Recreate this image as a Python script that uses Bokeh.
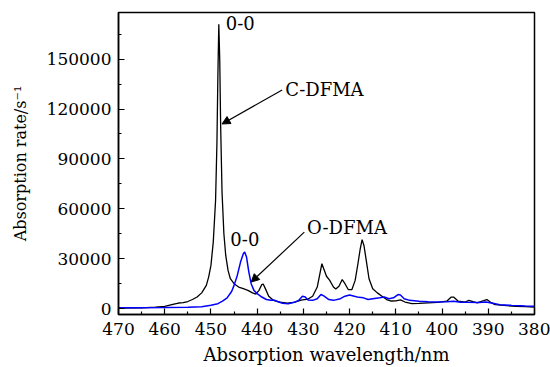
from bokeh.plotting import figure
from bokeh.models import Range1d, FixedTicker, Label, Arrow, NormalHead, BasicTickFormatter
from bokeh.embed import file_html
from bokeh.resources import INLINE

# C-DFMA (black)
c_nm = [470, 465, 462, 460, 458, 457, 456, 455, 454, 453, 452, 451, 450.5, 450, 449.5, 449, 448.7, 448.5, 448.3,
        448.1, 447.9, 447.6, 447.2, 446.8, 446.3, 445.8, 445, 444, 443, 442, 441, 440.3, 439.6, 439, 438.7, 438.3,
        437.5, 436.5, 435, 433.5, 432, 430.5, 429, 428, 427, 426.5, 426, 425.6, 425, 424.3, 423.5, 423, 422.3,
        421.6, 421, 420.3, 419.5, 418.8, 418.2, 417.7, 417.3, 416.9, 416.4, 415.8, 415, 414, 413, 412, 411, 410,
        409, 408, 406.5, 405, 403, 401, 399, 398, 397.5, 396.5, 395, 394.2, 393.3, 392.4, 391, 390.3, 389.5,
        388.5, 386, 384, 382, 380]
c_val = [300, 500, 900, 1400, 2800, 3400, 3600, 4300, 5500, 7000, 9500, 14000, 19000, 26000, 40000, 65000, 100000,
         140000, 171000, 150000, 110000, 70000, 45000, 32000, 23000, 18000, 15000, 13000, 12000, 11000, 9500, 8800,
         11000, 14500, 14800, 12500, 7500, 5000, 4000, 3300, 3800, 5200, 5800, 7500, 13000, 20000, 27000, 24000,
         19500, 17000, 13000, 11800, 13500, 17500, 15000, 11500, 11500, 17000, 27000, 36000, 41500, 38000, 29000,
         18000, 12000, 9500, 7500, 5500, 4600, 4700, 5300, 4000, 3000, 3200, 3500, 3800, 4500, 7000, 7000, 4500,
         4000, 5000, 4200, 3500, 4800, 5500, 3800, 2400, 1800, 1400, 1200, 1000]

# O-DFMA (blue)
o_nm = [470, 465, 460, 455, 452, 450, 448.5, 447.5, 446.5, 445.5, 445, 444.3, 443.6, 443, 442.7, 442.3, 441.8,
        441.3, 440.7, 440, 439, 438, 437, 436.4, 435.5, 434.5, 433.3, 432, 431, 430.2, 429.6, 429, 428, 427,
        426.2, 425.5, 424.5, 423.5, 422, 421, 420, 419, 418, 417, 416, 415, 413.5, 412.5, 411.5, 410.5, 410,
        409.5, 409, 408.2, 407, 405, 403, 401, 399, 397.5, 396, 394.5, 392, 390.5, 389, 387.5, 385, 382, 380]
o_val = [500, 600, 700, 900, 1200, 2000, 3000, 4500, 6500, 10500, 14000, 20000, 28000, 33000, 34000, 31000, 22000,
         15000, 11000, 9000, 7000, 5500, 5000, 5200, 4200, 3300, 3000, 3800, 5000, 7500, 7000, 5200, 5000, 6000,
         8500, 7500, 5500, 5000, 6000, 7500, 8200, 7500, 6800, 6500, 5500, 6000, 6500, 7000, 6000, 6500, 7500,
         8500, 8200, 6000, 5000, 4500, 4200, 4000, 4200, 4500, 3900, 3800, 3700, 4000, 3200, 2400, 2000, 1600, 1400]

x_ticks = [470, 460, 450, 440, 430, 420, 410, 400, 390, 380]
x_minor = [465, 455, 445, 435, 425, 415, 405, 395, 385]
y_ticks = [0, 30000, 60000, 90000, 120000, 150000]
y_minor = [15000, 45000, 75000, 105000, 135000, 165000]

x_title = "Absorption wavelength/nm"
y_title = "Absorption rate/s\u207b\u00b9"

# annotations: (text, nm, value)
labels = [("0-0", 446.8, 171500), ("C-DFMA", 433.9, 132000), ("0-0", 445.8, 41600), ("O-DFMA", 429.2, 49000)]
arrows = [(434.6, 131400, 447.6, 111000), (429.8, 46000, 441.3, 16000)]

FONT = "DejaVu Serif"

p = figure(width=550, height=367, output_backend="svg", toolbar_location=None,
           x_range=Range1d(470, 380), y_range=Range1d(-3500, 178000))
p.min_border_left = 118
p.min_border_top = 12
p.min_border_right = 16
p.min_border_bottom = 53
p.background_fill_color = "white"
p.border_fill_color = "white"
p.grid.visible = False
p.outline_line_color = "black"
p.outline_line_width = 1.5

p.line(c_nm, c_val, line_color="black", line_width=1.3)
p.line(o_nm, o_val, line_color="#0000ff", line_width=1.5)

for ax, t, m in ((p.xaxis[0], x_ticks, x_minor), (p.yaxis[0], y_ticks, y_minor)):
    ax.ticker = FixedTicker(ticks=t, minor_ticks=m)
    ax.formatter = BasicTickFormatter(use_scientific=False)
    ax.major_tick_in = 6
    ax.major_tick_out = 0
    ax.minor_tick_in = 3
    ax.minor_tick_out = 0
    ax.axis_line_width = 1.5
    ax.major_tick_line_width = 1.2
    ax.minor_tick_line_width = 1.2
    ax.major_label_text_font = FONT
    ax.major_label_text_font_size = "17px"
    ax.axis_label_text_font = FONT
    ax.axis_label_text_font_style = "normal"
    ax.major_label_text_color = "black"
    ax.axis_label_text_color = "black"

p.xaxis.axis_label = x_title
p.yaxis.axis_label = y_title
p.xaxis.axis_label_text_font_size = "18px"
p.yaxis.axis_label_text_font_size = "16px"
p.xaxis.major_label_standoff = 8
p.xaxis.axis_label_standoff = 6
p.yaxis.major_label_standoff = 7
p.yaxis.axis_label_standoff = 14

for txt, x, y in labels:
    p.add_layout(Label(x=x, y=y, text=txt, text_font=FONT, text_font_size="18px",
                       text_baseline="middle", text_align="left", text_color="black"))
for xs, ys, xe, ye in arrows:
    p.add_layout(Arrow(x_start=xs, y_start=ys, x_end=xe, y_end=ye, line_width=1.2, line_color="black",
                       end=NormalHead(size=8, fill_color="black", line_color="black")))

open("out.html", "w").write(file_html(p, INLINE))
